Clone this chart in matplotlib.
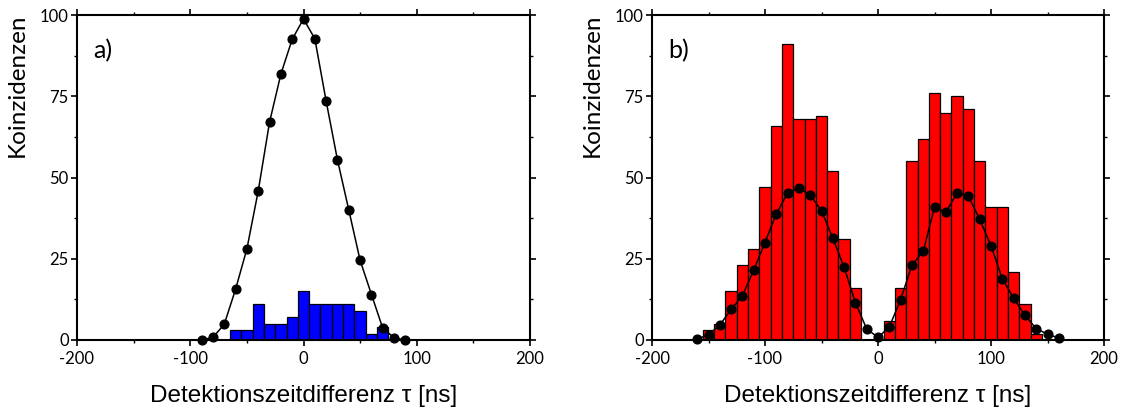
import matplotlib
matplotlib.use("Agg")
import matplotlib.pyplot as plt
from matplotlib.ticker import MultipleLocator

plt.rcParams['axes.unicode_minus'] = False

# ---- data ----
a_curve_x = [-90, -80, -70, -60, -50, -40, -30, -20, -10, 0, 10, 20, 30, 40, 50, 60, 70, 80, 90]
a_curve_y = [0, 0.8, 4.8, 15.6, 28, 45.8, 67, 81.8, 92.5, 98.8, 92.7, 73.5, 55.4, 40, 24.5, 14, 3.6, 0.7, 0]
a_bar_x = [-60, -50, -40, -30, -20, -10, 0, 10, 20, 30, 40, 50, 60, 70]
a_bar_y = [3, 3, 11, 5, 5, 7, 15, 11, 11, 11, 11, 9, 2, 4]

b_bar_x = [-150, -140, -130, -120, -110, -100, -90, -80, -70, -60, -50, -40, -30, -20,
           10, 20, 30, 40, 50, 60, 70, 80, 90, 100, 110, 120, 130, 140]
b_bar_y = [3, 5, 15, 23, 28, 47, 66, 91, 68, 68, 69, 52, 31, 16,
           6, 16, 55, 62, 76, 70, 75, 71, 55, 41, 41, 21, 11, 2]
b_curve_x = [-160, -150, -140, -130, -120, -110, -100, -90, -80, -70, -60, -50, -40, -30, -20, -10,
             0, 10, 20, 30, 40, 50, 60, 70, 80, 90, 100, 110, 120, 130, 140, 150, 160]
b_curve_y = [0.3, 1.6, 4.6, 9.4, 13.6, 21.5, 30, 38.8, 45.2, 46.8, 44.6, 39.8, 31.3, 22.4, 11.5, 3.4,
             0.8, 4, 12.4, 23, 27.3, 40.8, 39.3, 45.2, 44.3, 37.1, 29, 18.8, 12.9, 7.6, 3.5, 1.8, 0.6]

x_ticks = [-200, -100, 0, 100, 200]
y_ticks = [0, 25, 50, 75, 100]
x_label = "Detektionszeitdifferenz τ [ns]"
y_label = "Koinzidenzen"

tick_font = "Lato"
label_font = "Liberation Sans"

fig = plt.figure(figsize=(11.26, 4.12), dpi=100)
ax_a = fig.add_axes([77/1126, 72/412, 453/1126, 325/412])
ax_b = fig.add_axes([652/1126, 72/412, 452/1126, 325/412])


def style(ax, tag):
    ax.set_xlim(-200, 200)
    ax.set_ylim(0, 100)
    ax.set_xticks(x_ticks)
    ax.set_yticks(y_ticks)
    ax.xaxis.set_minor_locator(MultipleLocator(50))
    ax.yaxis.set_minor_locator(MultipleLocator(12.5))
    for s in ax.spines.values():
        s.set_linewidth(1.5)
    ax.tick_params(which='major', direction='out', length=4, width=1.2, pad=2,
                   labelsize=12, top=True, right=True)
    ax.tick_params(which='minor', direction='out', length=2.5, width=1.0,
                   top=True, right=True)
    ax.tick_params(axis='x', which='major', pad=4)
    for lab in ax.get_xticklabels() + ax.get_yticklabels():
        lab.set_fontfamily(tick_font)
    ax.set_xlabel(x_label, fontsize=17.5, fontfamily=label_font)
    ax.xaxis.set_label_coords(0.5, -0.138)
    ax.set_ylabel(y_label, fontsize=17.5, fontfamily=tick_font)
    ax.yaxis.set_label_coords(-0.108, 0.785)
    ax.text(0.035, 0.868, tag, transform=ax.transAxes, fontsize=18,
            fontfamily=tick_font, va='baseline', ha='left')


ax_a.bar(a_bar_x, a_bar_y, width=10, color='#0000ff', edgecolor='black', linewidth=0.9, zorder=2)
ax_a.plot(a_curve_x, a_curve_y, '-o', color='black', lw=1.1, ms=6.3, zorder=3, clip_on=False)
style(ax_a, "a)")

ax_b.bar(b_bar_x, b_bar_y, width=10, color='#ff0000', edgecolor='black', linewidth=0.9, zorder=2)
ax_b.plot(b_curve_x, b_curve_y, '-o', color='black', lw=1.1, ms=6.3, zorder=3, clip_on=False)
style(ax_b, "b)")

fig.savefig("out.png", dpi=100)
